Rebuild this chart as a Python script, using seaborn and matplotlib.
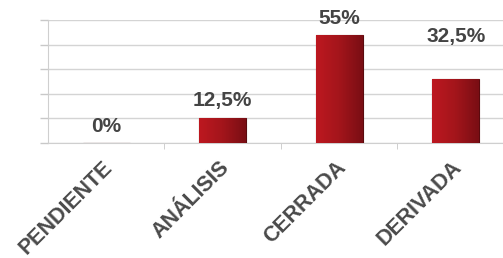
import numpy as np
import pandas as pd
import matplotlib
matplotlib.use('Agg')
import matplotlib.pyplot as plt
import matplotlib.transforms as mtransforms
from matplotlib.colors import LinearSegmentedColormap
import seaborn as sns

# Datos del grafico
estados = ['PENDIENTE', 'ANÁLISIS', 'CERRADA', 'DERIVADA']
porcentajes = [0, 12.5, 55, 32.5]
etiquetas = ['0%', '12,5%', '55%', '32,5%']

df = pd.DataFrame({'Estado': estados, 'Porcentaje': porcentajes})

sns.set_style('white')
plt.rcParams['font.family'] = ['Liberation Sans', 'DejaVu Sans']

fig = plt.figure(figsize=(5.03, 2.58), dpi=100)
ax = fig.add_axes([0.0954, 0.4457, 0.9046, 0.4767])

sns.barplot(data=df, x='Estado', y='Porcentaje', width=0.4, color='#a01419',
            edgecolor='#5a0a0e', linewidth=0.8, ax=ax, zorder=3)

# degradado rojo en cada barra
cmap = LinearSegmentedColormap.from_list('rojo', ['#bd1820', '#a3151b', '#7a0e14'])
grad = np.linspace(0, 1, 64).reshape(1, -1)
for p in ax.patches:
    if p.get_height() <= 0:
        continue
    x0, y0 = p.get_x(), p.get_y()
    im = ax.imshow(grad, extent=[x0, x0 + p.get_width(), y0, y0 + p.get_height()],
                   aspect='auto', cmap=cmap, zorder=3.5, interpolation='bicubic')
    im.set_clip_path(p)

ax.set_xlim(-0.5, 3.406)
ax.set_ylim(0, 62.5)
ax.set_yticks(np.arange(0, 62.6, 12.5))
ax.set_yticklabels([])
ax.yaxis.grid(True, color='#d4d4d4', linewidth=1)
ax.tick_params(axis='y', length=6, color='#c8c8c8', width=1, left=True)
ax.set_xticks([0.5, 1.5, 2.5], minor=True)
ax.tick_params(axis='x', which='minor', length=4, color='#c8c8c8', bottom=True)
ax.tick_params(axis='x', which='major', length=0, pad=10)
ax.set_xticks(range(len(estados)))
ax.set_xticklabels(estados, rotation=45, ha='right', rotation_mode='anchor',
                   fontsize=15.5, fontweight='bold', color='#4a4a4a')
desplaz_tick = mtransforms.ScaledTranslation(-4 / 100, 0, fig.dpi_scale_trans)
for lab in ax.get_xticklabels():
    lab.set_transform(lab.get_transform() + desplaz_tick)

for s in ['top', 'right']:
    ax.spines[s].set_visible(False)
ax.spines['left'].set_color('#cfcfcf')
ax.spines['bottom'].set_color('#cfcfcf')
ax.set_xlabel('')
ax.set_ylabel('')

# etiquetas de valor
desplaz = [5, 6, 5, 24]
for i, (v, t) in enumerate(zip(porcentajes, etiquetas)):
    ax.annotate(t, (i, v), xytext=(0, desplaz[i]), textcoords='offset points',
                ha='center', va='bottom', fontsize=15, fontweight='bold',
                color='#444444', zorder=5)

fig.savefig('out.png', dpi=100)
